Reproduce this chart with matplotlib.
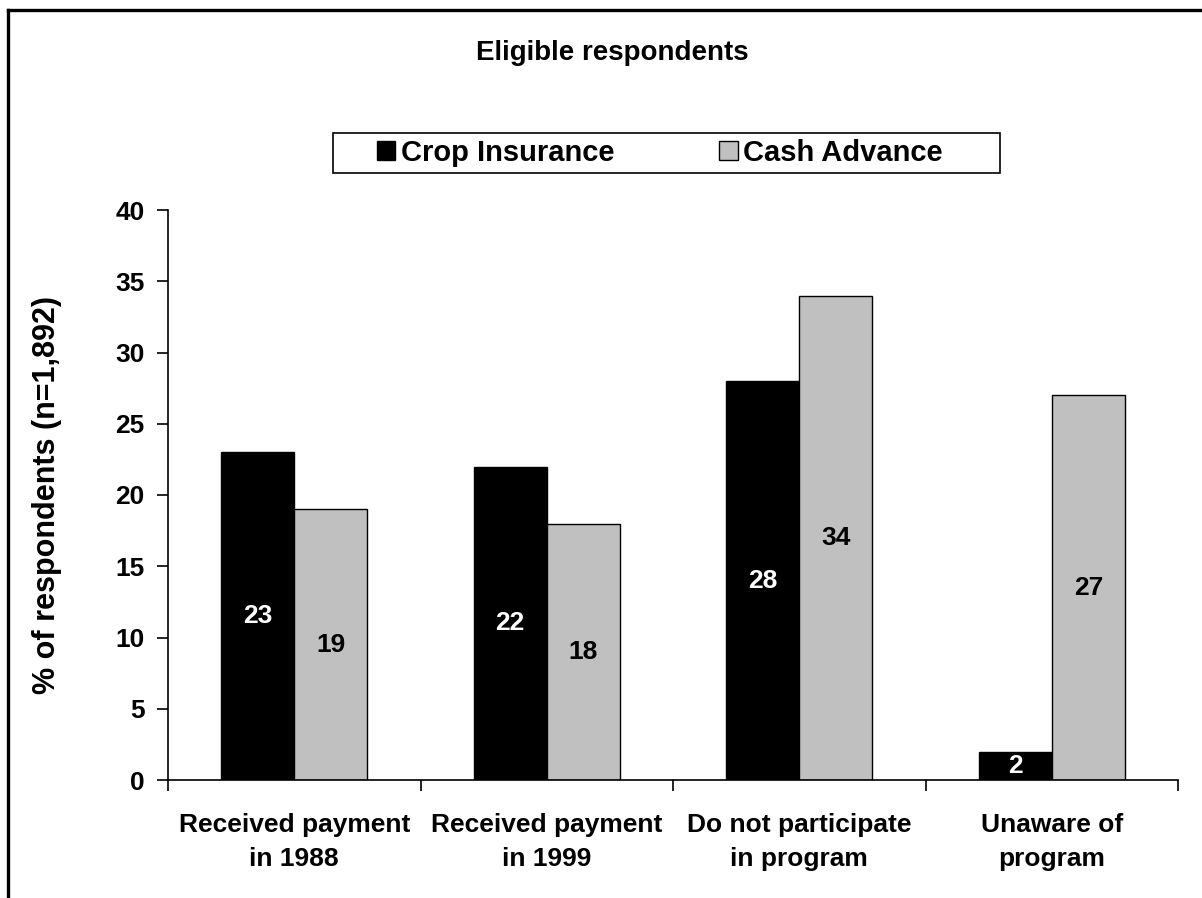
import matplotlib.pyplot as plt
import numpy as np
from matplotlib.lines import Line2D
from matplotlib.patches import Patch, Rectangle

# data
categories = ['Received payment\nin 1988', 'Received payment\nin 1999',
              'Do not participate\nin program', 'Unaware of\nprogram']
crop_insurance = [23, 22, 28, 2]
cash_advance = [19, 18, 34, 27]

BLACK = '#000000'
GRAY = '#c0c0c0'

plt.rcParams['font.family'] = ['Liberation Sans', 'DejaVu Sans']
plt.rcParams['font.weight'] = 'bold'

W, H = 1202, 898
fig = plt.figure(figsize=(W / 100, H / 100), dpi=100)
ax = fig.add_axes([168 / W, 1 - 780 / H, (1178 - 168) / W, (780 - 210) / H])

x = np.arange(len(categories))
w = 0.29
b1 = ax.bar(x - w / 2, crop_insurance, w, color=BLACK, edgecolor='black', linewidth=1)
b2 = ax.bar(x + w / 2, cash_advance, w, color=GRAY, edgecolor='black', linewidth=1)

for rect, v in zip(b1, crop_insurance):
    ax.text(rect.get_x() + rect.get_width() / 2, v / 2, str(v), ha='center', va='center',
            color='white', fontsize=19, fontweight='bold')
for rect, v in zip(b2, cash_advance):
    ax.text(rect.get_x() + rect.get_width() / 2, v / 2, str(v), ha='center', va='center',
            color='black', fontsize=19, fontweight='bold')

ax.set_xlim(-0.5, len(categories) - 0.5)
ax.set_ylim(0, 40)
ax.set_yticks(range(0, 41, 5))
ax.set_xticks(np.arange(-0.5, len(categories), 1.0))
ax.set_xticklabels([])
ax.set_xticks(x, minor=True)
ax.set_xticklabels(categories, minor=True, fontsize=19, fontweight='bold', linespacing=1.5)
ax.tick_params(axis='x', which='minor', length=0, pad=24)
ax.tick_params(axis='x', which='major', length=8, width=1.2, direction='out')
ax.tick_params(axis='y', length=8, width=1.2, direction='out', labelsize=19, pad=9)
for lab in ax.get_yticklabels():
    lab.set_fontweight('bold')

for s in ['top', 'right']:
    ax.spines[s].set_visible(False)
for s in ['left', 'bottom']:
    ax.spines[s].set_linewidth(1.2)

ax.set_ylabel('% of respondents (n=1,892)', fontsize=22, fontweight='bold', labelpad=38)

fig.text(612 / W, 1 - 53 / H, 'Eligible respondents', ha='center', va='center',
         fontsize=20, fontweight='bold')

# legend: framed box drawn separately so its padding matches the original
fig.add_artist(Rectangle((333 / W, 1 - 173 / H), (1000 - 333) / W, 40 / H,
                         transform=fig.transFigure, facecolor='white',
                         edgecolor='black', linewidth=1.2, zorder=2))
handles = [Patch(facecolor=BLACK, edgecolor='black'), Patch(facecolor=GRAY, edgecolor='black')]
leg = fig.legend(handles, ['Crop Insurance', 'Cash Advance'], ncol=2,
                 loc='center left', bbox_to_anchor=(377 / W, 1 - 153 / H),
                 frameon=False, fontsize=21,
                 handlelength=0.62, handleheight=0.62, handletextpad=0.2,
                 columnspacing=3.6, borderpad=0, borderaxespad=0)
leg.set_zorder(3)
for t in leg.get_texts():
    t.set_fontweight('bold')

# outer frame (top and left edges of the embedded chart box)
fig.add_artist(Line2D([8 / W, 1.0], [1 - 9.5 / H, 1 - 9.5 / H],
                      transform=fig.transFigure, color='black', linewidth=2.4))
fig.add_artist(Line2D([8 / W, 8 / W], [0.0, 1 - 9.5 / H],
                      transform=fig.transFigure, color='black', linewidth=2.4))

fig.savefig('out.png', dpi=100, facecolor='white')
